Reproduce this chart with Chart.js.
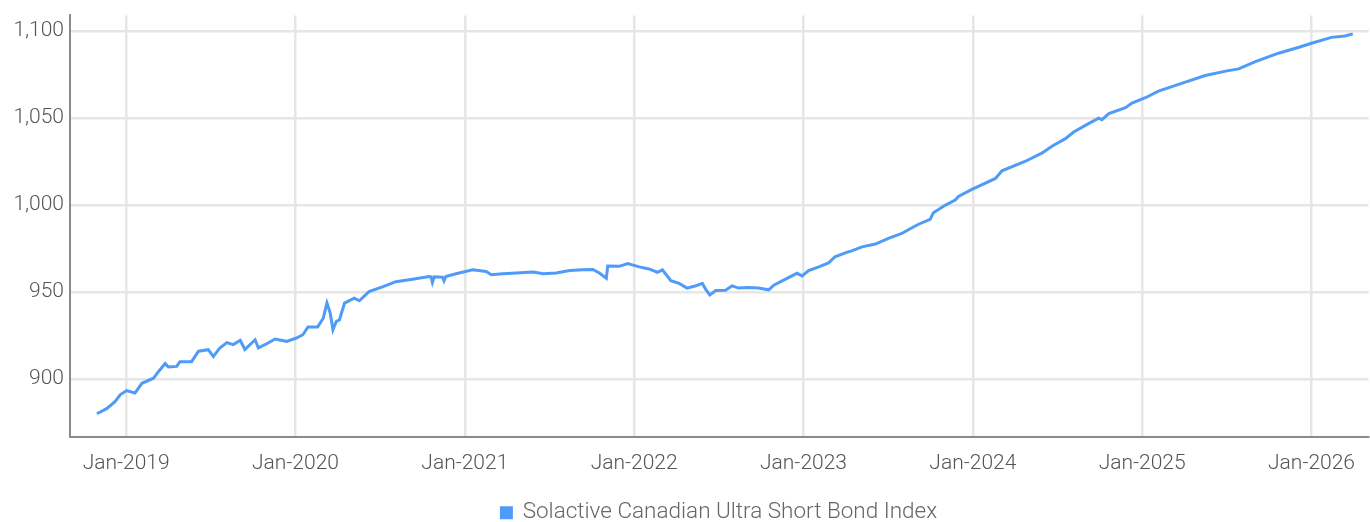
<!DOCTYPE html>
<html>
<head>
<meta charset="utf-8">
<script src="https://cdn.jsdelivr.net/npm/chart.js@4.4.1/dist/chart.umd.min.js"></script>
<style>
  html, body { margin: 0; padding: 0; background: #fff; }
  #wrap { width: 1370px; height: 522px; position: relative; }
</style>
</head>
<body>
<div id="wrap"><canvas id="indexChart"></canvas></div>
<script>
const seriesName = 'Solactive Canadian Ultra Short Bond Index';

const dates = [
  '2018-10-30','2018-11-20','2018-12-08','2018-12-19','2019-01-02','2019-01-20','2019-02-04','2019-03-01',
  '2019-03-12','2019-03-26','2019-04-02','2019-04-20','2019-04-27','2019-05-22','2019-06-06','2019-06-27',
  '2019-07-08','2019-07-22','2019-08-06','2019-08-20','2019-09-04','2019-09-14','2019-10-06','2019-10-13',
  '2019-10-31','2019-11-18','2019-12-13','2020-01-03','2020-01-17','2020-01-28','2020-02-18','2020-03-01',
  '2020-03-09','2020-03-16','2020-03-22','2020-03-29','2020-04-05','2020-04-16','2020-05-07','2020-05-18',
  '2020-06-08','2020-07-07','2020-08-05','2020-09-10','2020-10-16','2020-10-20','2020-10-23','2020-10-27',
  '2020-11-14','2020-11-17','2020-11-21','2020-12-13','2021-01-18','2021-02-16','2021-02-27','2021-03-24',
  '2021-04-22','2021-05-28','2021-06-19','2021-07-17','2021-08-15','2021-09-12','2021-10-04','2021-10-18',
  '2021-11-02','2021-11-05','2021-11-30','2021-12-18','2022-01-12','2022-02-02','2022-02-20','2022-03-03',
  '2022-03-21','2022-04-08','2022-04-25','2022-05-14','2022-05-28','2022-06-04','2022-06-13','2022-06-26',
  '2022-07-17','2022-07-31','2022-08-14','2022-09-05','2022-09-26','2022-10-18','2022-10-29','2022-11-16',
  '2022-12-04','2022-12-18','2022-12-29','2023-01-12','2023-02-03','2023-02-24','2023-03-10','2023-04-04',
  '2023-04-15','2023-05-07','2023-06-05','2023-07-03','2023-08-01','2023-08-16','2023-09-06','2023-10-01',
  '2023-10-08','2023-11-03','2023-11-24','2023-12-01','2023-12-30','2024-02-19','2024-03-04','2024-04-24',
  '2024-05-30','2024-06-20','2024-07-19','2024-08-06','2024-09-07','2024-09-29','2024-10-06','2024-10-21',
  '2024-11-26','2024-12-10','2025-01-08','2025-02-05','2025-04-04','2025-05-17','2025-06-30','2025-07-28',
  '2025-09-02','2025-10-22','2025-12-05','2026-01-01','2026-02-13','2026-03-14','2026-03-31'
];

// index level at each date
const levels = [
  880.1, 883.0, 887.0, 891.0, 893.4, 892.0, 897.6, 900.5,
  904.4, 908.9, 907.0, 907.3, 910.0, 910.0, 916.0, 916.9,
  913.0, 917.9, 921.0, 919.8, 922.3, 917.0, 922.6, 917.9,
  920.3, 923.0, 921.7, 923.6, 925.5, 930.0, 930.0, 935.0,
  943.7, 938.0, 928.4, 933.0, 934.0, 943.7, 946.5, 945.0,
  950.3, 953.0, 956.0, 957.4, 958.9, 958.8, 955.5, 958.8,
  958.5, 956.5, 959.0, 960.5, 962.8, 961.8, 960.0, 960.5,
  961.0, 961.6, 960.5, 961.0, 962.4, 962.8, 963.0, 961.0,
  958.0, 965.0, 964.8, 966.4, 964.5, 963.3, 961.4, 962.8,
  956.6, 955.0, 952.3, 953.6, 955.0, 951.7, 948.4, 950.9,
  951.0, 953.6, 952.3, 952.6, 952.3, 951.3, 954.0, 956.4,
  958.9, 960.8, 959.3, 962.3, 964.5, 966.8, 970.3, 972.8,
  973.7, 976.0, 977.6, 980.9, 983.7, 986.0, 989.0, 991.8,
  995.6, 1000.0, 1002.9, 1005.0, 1009.0, 1015.3, 1019.7, 1025.2,
  1030.0, 1033.8, 1038.2, 1042.0, 1046.8, 1050.0, 1049.1, 1052.6,
  1056.0, 1058.6, 1061.7, 1065.5, 1070.7, 1074.5, 1077.0, 1078.3,
  1082.5, 1087.3, 1090.7, 1093.0, 1096.4, 1097.2, 1098.4
];

const tickYears = [2019, 2020, 2021, 2022, 2023, 2024, 2025, 2026];
const yTicks = [900, 950, 1000, 1050, 1100];

// date string -> fractional year, so Jan 1 lands exactly on the integer
function toYear(s) {
    const [y, m, d] = s.split('-').map(Number);
    const start = Date.UTC(y, 0, 1);
    const len = Date.UTC(y + 1, 0, 1) - start;
    return y + (Date.UTC(y, m - 1, d) - start) / len;
}

const points = dates.map((d, i) => ({ x: toYear(d), y: levels[i] }));

const FONT = 'Roboto, "Liberation Sans Narrow", sans-serif';

new Chart(document.getElementById('indexChart'), {
    type: 'line',
    data: {
        datasets: [{
            label: seriesName,
            data: points,
            borderColor: '#4f9bf8',
            backgroundColor: '#4f9bf8',
            borderWidth: 3,
            pointRadius: 0,
            tension: 0,
            fill: false
        }]
    },
    options: {
        responsive: true,
        maintainAspectRatio: false,
        animation: false,
        layout: { padding: { top: 14, right: 0, left: 0, bottom: -12 } },
        plugins: {
            tooltip: { enabled: false },
            legend: {
                position: 'bottom',
                fullSize: false,
                labels: {
                    boxWidth: 10,
                    boxHeight: 10,
                    padding: 2,
                    color: '#666',
                    font: { family: FONT, size: 22.5, weight: '300' }
                }
            }
        },
        scales: {
            x: {
                type: 'linear',
                min: 2018 + 244 / 365,
                max: 2026 + 123 / 365,
                afterBuildTicks: s => { s.ticks = tickYears.map(v => ({ value: v })); },
                afterFit: s => { s.height = 63; },
                grid: { color: '#e6e6e6', lineWidth: 2.5, drawTicks: false },
                border: { color: '#8a8a8a', width: 2 },
                ticks: {
                    padding: 15,
                    maxRotation: 0,
                    color: '#555',
                    font: { family: FONT, size: 21, weight: '300' },
                    callback: v => 'Jan-' + v
                }
            },
            y: {
                min: 867,
                max: 1109,
                afterBuildTicks: s => { s.ticks = yTicks.map(v => ({ value: v })); },
                afterFit: s => { s.width = 70; },
                grid: { color: '#e6e6e6', lineWidth: 2.5, drawTicks: false },
                border: { color: '#8a8a8a', width: 2 },
                ticks: {
                    padding: 6,
                    color: '#555',
                    font: { family: FONT, size: 21, weight: '300', lineHeight: 0.9 },
                    callback: v => v.toLocaleString('en-US')
                }
            }
        }
    }
});
</script>
</body>
</html>
